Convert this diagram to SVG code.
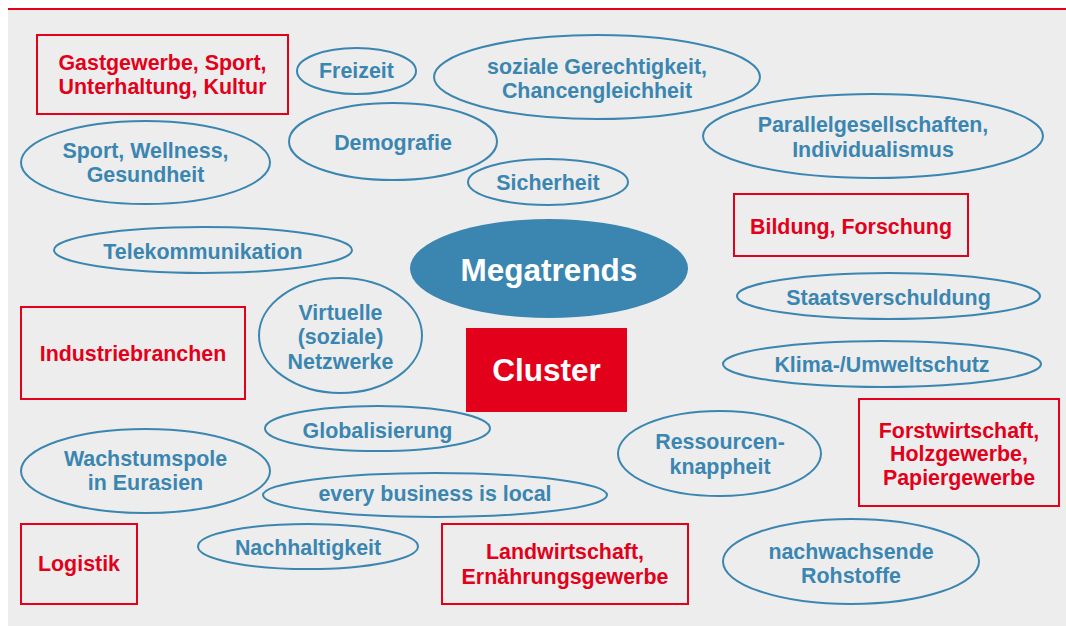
<svg xmlns="http://www.w3.org/2000/svg" width="1066" height="626" viewBox="0 0 1066 626">
<style>
.e{fill:none;stroke:#3A86B1;stroke-width:2}
.b{fill:none;stroke:#E2001A;stroke-width:2}
text{font-family:"Liberation Sans",Arial,sans-serif;font-weight:bold;text-anchor:middle;font-size:21.4px}
.t{fill:#3A86B1}
.r{fill:#E2001A}
.w{fill:#FFFFFF;font-size:31.5px}
</style>
<rect x="0" y="0" width="1066" height="626" fill="#FFFFFF"/>
<rect x="8" y="10" width="1058" height="616" fill="#EDEDED"/>
<line x1="8" y1="9" x2="1066" y2="9" stroke="#E2001A" stroke-width="2"/>
<g id="connectors"></g>
<g id="gastgewerbe"><rect class="b" x="37" y="35" width="251" height="79"/><text class="r" x="162.5" y="70">Gastgewerbe, Sport,</text><text class="r" x="162.5" y="94">Unterhaltung, Kultur</text></g>
<g id="freizeit"><ellipse class="e" cx="356.5" cy="71" rx="59.5" ry="23"/><text class="t" x="356.5" y="78">Freizeit</text></g>
<g id="soziale"><ellipse class="e" cx="597" cy="77" rx="163" ry="42"/><text class="t" x="597" y="74">soziale Gerechtigkeit,</text><text class="t" x="597" y="98">Chancengleichheit</text></g>
<g id="sport"><ellipse class="e" cx="145.5" cy="162.5" rx="124.5" ry="41.5"/><text class="t" x="145.5" y="158">Sport, Wellness,</text><text class="t" x="145.5" y="182">Gesundheit</text></g>
<g id="demografie"><ellipse class="e" cx="393" cy="141.5" rx="104" ry="38.5"/><text class="t" x="393" y="150">Demografie</text></g>
<g id="sicherheit"><ellipse class="e" cx="548" cy="182" rx="80" ry="23"/><text class="t" x="548" y="190">Sicherheit</text></g>
<g id="parallel"><ellipse class="e" cx="873" cy="136" rx="170" ry="42"/><text class="t" x="873" y="132">Parallelgesellschaften,</text><text class="t" x="873" y="157">Individualismus</text></g>
<g id="bildung"><rect class="b" x="734" y="194" width="234" height="62"/><text class="r" x="851" y="234">Bildung, Forschung</text></g>
<g id="telekom"><ellipse class="e" cx="203" cy="250" rx="149" ry="23"/><text class="t" x="203" y="259">Telekommunikation</text></g>
<g id="megatrends"><ellipse cx="549" cy="268.5" rx="139" ry="49.5" fill="#3A86B0"/><text class="w" x="549" y="281">Megatrends</text></g>
<g id="staats"><ellipse class="e" cx="888.5" cy="296" rx="151.5" ry="23"/><text class="t" x="888.5" y="305">Staatsverschuldung</text></g>
<g id="industrie"><rect class="b" x="21" y="307" width="224" height="92"/><text class="r" x="133" y="361">Industriebranchen</text></g>
<g id="virtuelle"><ellipse class="e" cx="340.5" cy="335.5" rx="81.5" ry="57.5"/><text class="t" x="340.5" y="320">Virtuelle</text><text class="t" x="340.5" y="344">(soziale)</text><text class="t" x="340.5" y="369">Netzwerke</text></g>
<g id="cluster"><rect x="466" y="328" width="161" height="84" fill="#E2001A"/><text class="w" x="546.5" y="381">Cluster</text></g>
<g id="klima"><ellipse class="e" cx="882" cy="364" rx="159" ry="23"/><text class="t" x="882" y="372">Klima-/Umweltschutz</text></g>
<g id="forst"><rect class="b" x="859" y="399" width="200" height="107"/><text class="r" x="959" y="438">Forstwirtschaft,</text><text class="r" x="959" y="461">Holzgewerbe,</text><text class="r" x="959" y="485">Papiergewerbe</text></g>
<g id="global"><ellipse class="e" cx="377.5" cy="428.5" rx="112.5" ry="22.5"/><text class="t" x="377.5" y="438">Globalisierung</text></g>
<g id="ressourcen"><ellipse class="e" cx="719.5" cy="453.5" rx="101.5" ry="42.5"/><text class="t" x="720" y="449">Ressourcen-</text><text class="t" x="720" y="474">knappheit</text></g>
<g id="wachstum"><ellipse class="e" cx="145.5" cy="471" rx="124.5" ry="42"/><text class="t" x="145.5" y="466">Wachstumspole</text><text class="t" x="145.5" y="490">in Eurasien</text></g>
<g id="every"><ellipse class="e" cx="435" cy="495" rx="172" ry="22"/><text class="t" x="435" y="501">every business is local</text></g>
<g id="nachhaltig"><ellipse class="e" cx="308" cy="546.5" rx="110" ry="22.5"/><text class="t" x="308" y="555">Nachhaltigkeit</text></g>
<g id="logistik"><rect class="b" x="21" y="524" width="116" height="80"/><text class="r" x="79" y="571">Logistik</text></g>
<g id="landwirtschaft"><rect class="b" x="442" y="524" width="246" height="80"/><text class="r" x="565" y="559">Landwirtschaft,</text><text class="r" x="565" y="584">Ernährungsgewerbe</text></g>
<g id="nachwachsend"><ellipse class="e" cx="851" cy="561.5" rx="128" ry="42.5"/><text class="t" x="851" y="559">nachwachsende</text><text class="t" x="851" y="583">Rohstoffe</text></g>
</svg>
